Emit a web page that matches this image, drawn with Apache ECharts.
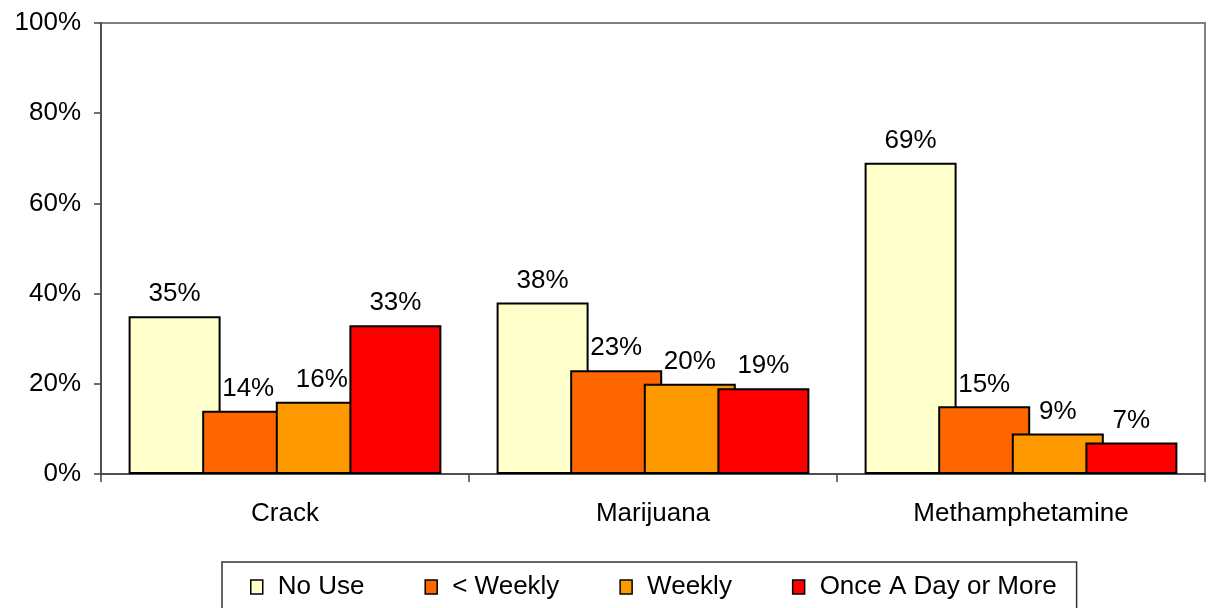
<!DOCTYPE html>
<html>
<head>
<meta charset="utf-8">
<script src="https://cdn.jsdelivr.net/npm/echarts@6/dist/echarts.min.js"></script>
<style>
  html, body { margin: 0; padding: 0; background: #fff; }
  #chart { width: 1209px; height: 608px; }
</style>
</head>
<body>
<div id="chart"></div>
<script>
// categories and series values (percent)
var categories = ['Crack', 'Marijuana', 'Methamphetamine'];
var seriesNames = ['No Use', '< Weekly', 'Weekly', 'Once A Day or More'];
var noUse = [35, 38, 69];
var lessWeekly = [14, 23, 15];
var weekly = [16, 20, 9];
var daily = [33, 19, 7];
var colors = ['#FFFFCC', '#FF6600', '#FF9900', '#FF0000'];

var FONT = '"Liberation Sans", Arial, sans-serif';

var myChart = echarts.init(document.getElementById('chart'));

function makeSeries(name, data, color) {
  return {
    name: name,
    type: 'bar',
    data: data,
    barWidth: 92,
    barGap: '-20%',
    itemStyle: {
      color: color,
      borderColor: '#000',
      borderWidth: 2
    },
    label: {
      show: true,
      position: 'top',
      distance: 9,
      formatter: '{c}%',
      fontSize: 26,
      fontFamily: FONT,
      color: '#000'
    }
  };
}

var options = {
  animation: false,
  textStyle: { fontFamily: FONT },
  grid: {
    left: 101,
    right: 4,
    top: 23,
    bottom: 134,
    show: true,
    borderColor: '#808080',
    borderWidth: 2
  },
  legend: {
    data: seriesNames,
    left: 222,
    top: 562,
    padding: [12, 20, 14, 28],
    itemGap: 60,
    itemWidth: 12,
    itemHeight: 14,
    icon: 'rect',
    borderColor: '#333',
    borderWidth: 1.5,
    itemStyle: { borderColor: '#000', borderWidth: 1.5 },
    textStyle: {
      fontSize: 26,
      fontFamily: FONT,
      color: '#000',
      padding: [0, 0, 0, 10]
    }
  },
  xAxis: {
    type: 'category',
    data: categories,
    axisLine: { lineStyle: { color: '#404040', width: 1.5 } },
    axisTick: { show: true, length: 8, lineStyle: { color: '#404040', width: 1.5 } },
    axisLabel: { fontSize: 26, fontFamily: FONT, color: '#000', margin: 27 }
  },
  yAxis: {
    type: 'value',
    min: 0,
    max: 100,
    interval: 20,
    splitLine: { show: false },
    axisLine: { show: true, lineStyle: { color: '#404040', width: 1.5 } },
    axisTick: { show: true, length: 7, lineStyle: { color: '#404040', width: 1.5 } },
    axisLabel: { fontSize: 26, fontFamily: FONT, color: '#000', margin: 20, formatter: '{value}%' }
  },
  series: [
    makeSeries(seriesNames[0], noUse, colors[0]),
    makeSeries(seriesNames[1], lessWeekly, colors[1]),
    makeSeries(seriesNames[2], weekly, colors[2]),
    makeSeries(seriesNames[3], daily, colors[3])
  ]
};
myChart.setOption(options);
</script>
</body>
</html>
